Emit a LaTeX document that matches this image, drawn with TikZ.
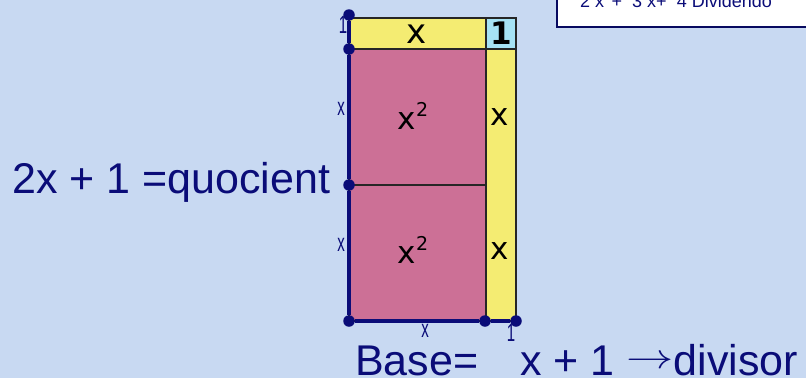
\documentclass[tikz,border=0pt]{standalone}
\usepackage{fontspec}
\setmainfont{Liberation Sans}
\newfontfamily\cellfont{DejaVu Sans}
\definecolor{bgblue}{HTML}{C8D9F2}
\definecolor{navy}{HTML}{0A0C78}
\definecolor{pinkc}{HTML}{CC7096}
\definecolor{yellowc}{HTML}{F4EC72}
\definecolor{cyanc}{HTML}{A6E2F4}
\newcommand{\longarr}{\raisebox{7pt}{\scalebox{1.9}[1.4]{$\rightarrow$}}}
\begin{document}
\begin{tikzpicture}[x=1pt,y=-1pt,
    dot/.style={circle,fill=navy,inner sep=0pt,minimum size=11.5pt},
    tinylbl/.style={text=navy,font=\fontsize{25}{25}\selectfont,xscale=0.6,inner sep=0pt},
    celllbl/.style={font=\cellfont\fontsize{31}{31}\selectfont,inner sep=0pt},
    biglbl/.style={text=navy,font=\fontsize{43}{43}\selectfont,inner sep=0pt,anchor=base west},
    cell/.style={draw=black!85,line width=1.5pt},
    axis/.style={draw=navy,line width=3.6pt}]
  \useasboundingbox (0,0) rectangle (806,378);
  \clip (0,0) rectangle (806,378);
  \fill[bgblue] (0,0) rectangle (806,378);

  \draw[fill=white,draw=navy!80!black,line width=1.8pt] (557,-20) rectangle (830,27);
  \node[anchor=base west,inner sep=0pt,text=navy,font=\fontsize{18}{18}\selectfont] (dividend)
    at (580,7) {2 x\textsuperscript{2}+~~3 x+~~4 Dividendo};

  \fill[cell,fill=yellowc] (349,18) rectangle (486,49);
  \fill[cell,fill=cyanc] (486,18) rectangle (516,49);
  \fill[cell,fill=pinkc] (349,49) rectangle (486,185);
  \fill[cell,fill=pinkc] (349,185) rectangle (486,321);
  \fill[cell,fill=yellowc] (486,49) rectangle (516,321);

  \draw
    (417,34) node[celllbl,font=\cellfont\fontsize{34}{34}\selectfont] (topx){x}
    (501,33) node[celllbl,font=\cellfont\bfseries\fontsize{31}{31}\selectfont] (topone){1}
    (413,116) node[celllbl] (sqa){x\raisebox{0.42em}{\fontsize{19}{19}\selectfont 2}}
    (413,250) node[celllbl] (sqb){x\raisebox{0.42em}{\fontsize{19}{19}\selectfont 2}}
    (500,117) node[celllbl] (rxa){x}
    (500,251) node[celllbl] (rxb){x};

  \draw
    (349,15) node[dot] (a){}
    (349,49) node[dot] (b){}
    (349,185) node[dot] (c){}
    (349,321) node[dot] (d){}
    (485,321) node[dot] (e){}
    (516,321) node[dot] (f){};
  \begin{scope}[axis]
    \draw (a) to (b);
    \draw (b) to (c);
    \draw (c) to (d);
    \draw (d) to (e);
    \draw (e) to (f);
  \end{scope}

  \draw
    (343,25) node[tinylbl] (lone){1}
    (341,109) node[tinylbl] (lxa){x}
    (341,245) node[tinylbl] (lxb){x}
    (425,331) node[tinylbl] (bx){x}
    (511,333) node[tinylbl] (bone){1};

  \node[biglbl] (quot) at (12,193) {2x + 1 =quocient};
  \node[biglbl] (base) at (355,375) {Base=};
  \node[biglbl] (divisor) at (520,375) {x + 1 \longarr divisor};
\end{tikzpicture}
\end{document}
